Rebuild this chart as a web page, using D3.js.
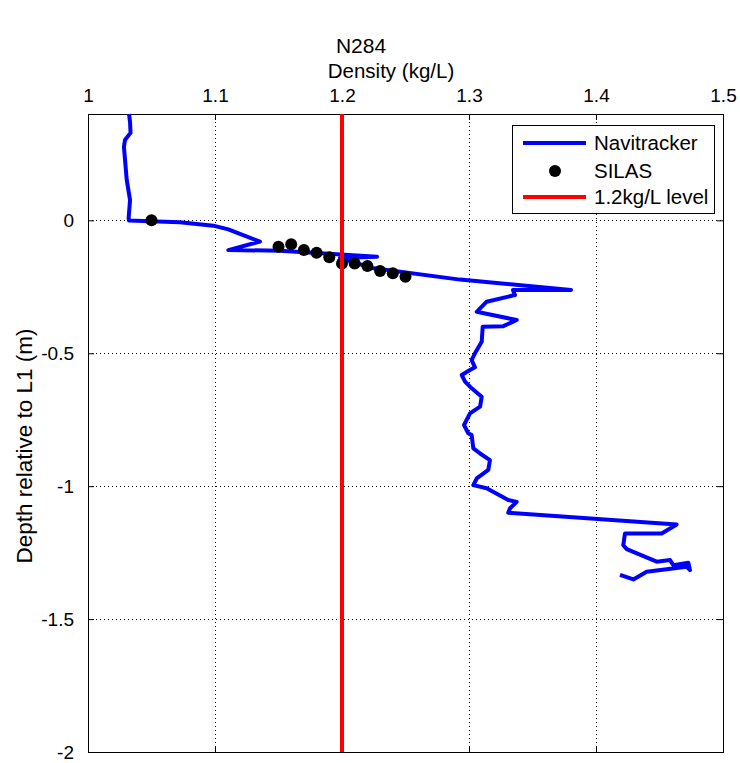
<!DOCTYPE html>
<html>
<head>
<meta charset="utf-8">
<script src="https://cdn.jsdelivr.net/npm/d3@7"></script>
<style>
  body { margin: 0; background: #fff; }
  svg { display: block; font-family: "Liberation Sans", Arial, sans-serif; }
</style>
</head>
<body>
<svg id="chart" width="740" height="763"></svg>
<script>
// ---- Data ----
const naviDensity = [1.0323,1.0331,1.0335,1.0291,1.0283,1.0305,1.0331,1.0320,1.0323,1.0488,1.0724,1.0987,1.1105,1.1354,1.1105,1.1512,1.2276,1.1984,1.2236,1.2929,1.3803,1.3346,1.3362,1.3139,1.3061,1.3165,1.3376,1.3270,1.3108,1.3100,1.3047,1.3021,1.3047,1.3008,1.2943,1.2969,1.3021,1.3100,1.3087,1.3008,1.2961,1.2994,1.3021,1.3034,1.3087,1.3165,1.3152,1.3061,1.3034,1.3139,1.3309,1.3376,1.3323,1.3309,1.4635,1.4517,1.4228,1.4215,1.4242,1.4478,1.4583,1.4609,1.4727,1.4740,1.4714,1.4399,1.4294,1.4189];
const naviDepth = [0.400,0.370,0.329,0.302,0.276,0.152,0.076,0.008,-0.001,-0.003,-0.007,-0.020,-0.034,-0.080,-0.112,-0.114,-0.137,-0.142,-0.179,-0.223,-0.262,-0.262,-0.281,-0.306,-0.344,-0.354,-0.375,-0.398,-0.400,-0.457,-0.500,-0.526,-0.553,-0.563,-0.582,-0.607,-0.632,-0.664,-0.701,-0.726,-0.770,-0.801,-0.808,-0.858,-0.877,-0.902,-0.939,-0.971,-0.996,-1.008,-1.052,-1.059,-1.083,-1.100,-1.144,-1.178,-1.178,-1.222,-1.237,-1.284,-1.278,-1.297,-1.288,-1.316,-1.303,-1.322,-1.351,-1.334];
const silasDensity = [1.05,1.15,1.16,1.17,1.18,1.19,1.20,1.21,1.22,1.23,1.24,1.25];
const silasDepth = [0.0,-0.099,-0.090,-0.112,-0.122,-0.139,-0.162,-0.162,-0.172,-0.191,-0.199,-0.212];
const levelDensity = 1.2;
const xTicks = [1,1.1,1.2,1.3,1.4,1.5];
const xTickLabels = ["1","1.1","1.2","1.3","1.4","1.5"];
const yTicks = [0,-0.5,-1,-1.5,-2];
const yTickLabels = ["0","-0.5","-1","-1.5","-2"];
const legendLabels = ["Navitracker","SILAS","1.2kg/L level"];
const titleText = "N284";
const xLabel = "Density (kg/L)";
const yLabel = "Depth relative to L1 (m)";

// ---- Layout ----
const L = 88, R = 723, T = 114, B = 752;
const svg = d3.select("#chart");
const x = d3.scaleLinear().domain([1, 1.5]).range([L, R]);
const y = d3.scaleLinear().domain([-2, 0.4]).range([B, T]);

// grid
const grid = svg.append("g");
xTicks.slice(1, -1).forEach(v => {
  grid.append("line").attr("x1", x(v)).attr("x2", x(v)).attr("y1", T).attr("y2", B)
    .attr("stroke", "#000").attr("stroke-width", 1).attr("stroke-dasharray", "1,3").attr("shape-rendering","crispEdges");
});
yTicks.slice(0, -1).forEach(v => {
  grid.append("line").attr("x1", L).attr("x2", R).attr("y1", y(v)).attr("y2", y(v))
    .attr("stroke", "#000").attr("stroke-width", 1).attr("stroke-dasharray", "1,3").attr("shape-rendering","crispEdges");
});

// axes
const xAxisTop = d3.axisTop(x).tickValues(xTicks).tickFormat((d, i) => xTickLabels[i]).tickSizeInner(-6).tickSizeOuter(0).tickPadding(12);
svg.append("g").attr("transform", `translate(0,${T})`).call(xAxisTop);
const xAxisBot = d3.axisBottom(x).tickValues(xTicks).tickFormat("").tickSizeInner(-6).tickSizeOuter(0);
svg.append("g").attr("transform", `translate(0,${B})`).call(xAxisBot);
const yAxisL = d3.axisLeft(y).tickValues(yTicks).tickFormat((d, i) => yTickLabels[i]).tickSizeInner(-6).tickSizeOuter(0).tickPadding(14);
svg.append("g").attr("transform", `translate(${L},0)`).call(yAxisL);
const yAxisR = d3.axisRight(y).tickValues(yTicks).tickFormat("").tickSizeInner(-6).tickSizeOuter(0);
svg.append("g").attr("transform", `translate(${R},0)`).call(yAxisR);
svg.selectAll(".domain").remove();
svg.selectAll(".tick line").attr("stroke", "#000");
svg.selectAll(".tick text").attr("font-size", 19).attr("fill", "#000").attr("font-family", "Liberation Sans, Arial, sans-serif");

// frame
svg.append("rect").attr("x", L + 0.5).attr("y", T + 0.5).attr("width", R - L).attr("height", B - T)
  .attr("fill", "none").attr("stroke", "#000").attr("stroke-width", 1);

// Navitracker line
const pts = naviDensity.map((d, i) => [x(d), y(naviDepth[i])]);
svg.append("path").attr("d", d3.line()(pts)).attr("fill", "none")
  .attr("stroke", "#0000ff").attr("stroke-width", 4).attr("stroke-linejoin", "round");

// SILAS dots
svg.append("g").selectAll("circle").data(silasDensity).join("circle")
  .attr("cx", d => x(d)).attr("cy", (d, i) => y(silasDepth[i])).attr("r", 6).attr("fill", "#000");

// 1.2 level
svg.append("line").attr("x1", x(levelDensity)).attr("x2", x(levelDensity)).attr("y1", T).attr("y2", B)
  .attr("stroke", "#ff0000").attr("stroke-width", 4);

// titles
svg.append("text").attr("x", 361).attr("y", 53).attr("text-anchor", "middle").attr("font-size", 21).text(titleText);
svg.append("text").attr("x", 391).attr("y", 78).attr("text-anchor", "middle").attr("font-size", 20.5).text(xLabel);
svg.append("text").attr("transform", "translate(32,446) rotate(-90)").attr("text-anchor", "middle").attr("font-size", 22.5).text(yLabel);

// legend
const lg = svg.append("g");
lg.append("rect").attr("x", 512.5).attr("y", 125.5).attr("width", 202).attr("height", 88)
  .attr("fill", "#fff").attr("stroke", "#000").attr("stroke-width", 1);
const rows = [143, 171, 197];
lg.append("line").attr("x1", 523).attr("x2", 586).attr("y1", rows[0]).attr("y2", rows[0]).attr("stroke", "#0000ff").attr("stroke-width", 4);
lg.append("circle").attr("cx", 555).attr("cy", rows[1]).attr("r", 6).attr("fill", "#000");
lg.append("line").attr("x1", 523).attr("x2", 586).attr("y1", rows[2]).attr("y2", rows[2]).attr("stroke", "#ff0000").attr("stroke-width", 4);
legendLabels.forEach((t, i) => {
  lg.append("text").attr("x", 594).attr("y", rows[i]).attr("dy", "0.36em").attr("font-size", 20.5).text(t);
});
</script>
</body>
</html>
